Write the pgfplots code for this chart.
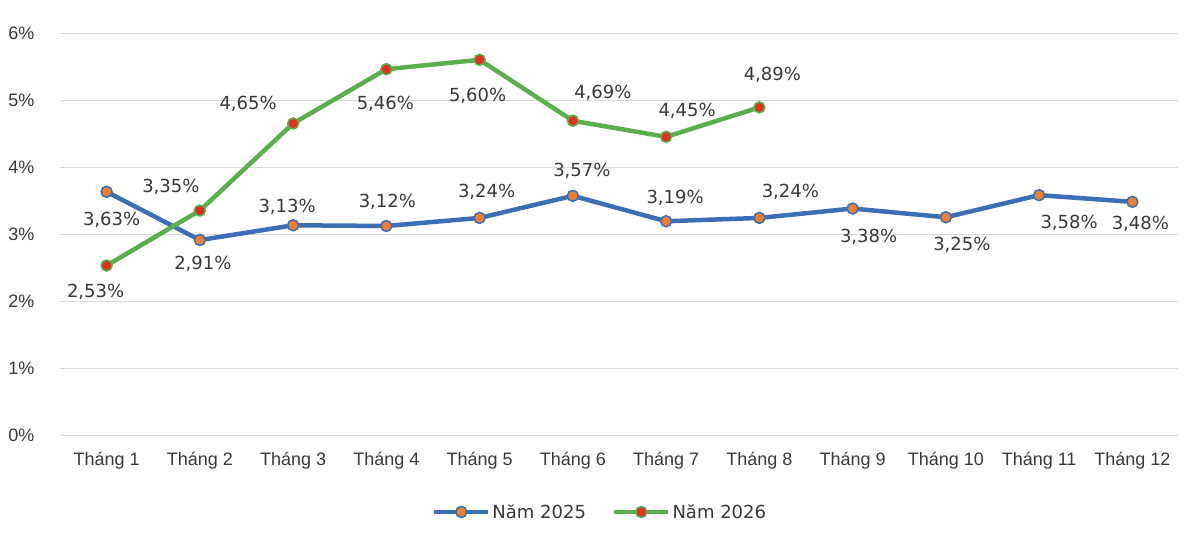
\documentclass[border=0pt]{standalone}
\usepackage{pgfplots}
\pgfplotsset{compat=1.18}
\usepackage{pgfplotstable}
\usepackage{fontspec}
\setmainfont{Liberation Sans}
\newfontfamily\lblfont{DejaVu Sans}

\definecolor{line25}{HTML}{3A6EB5}
\definecolor{mark25}{HTML}{ED7D31}
\definecolor{line26}{HTML}{5AAE4E}
\definecolor{mark26}{HTML}{E2301F}
\definecolor{txt}{HTML}{383838}
\definecolor{gridc}{HTML}{D9D9D9}

% x y dx dy  (dx, dy = label offset from the marker, in pt)
\pgfplotstableread{
x y dx dy
1 3.63 5 -28
2 2.91 3 -24
3 3.13 -6 18
4 3.12 1 24
5 3.24 7 26
6 3.57 9 25
7 3.19 9 23
8 3.24 31 26
9 3.38 16 -28
10 3.25 16 -28
11 3.58 30 -28
12 3.48 8 -22
}\yearA

\pgfplotstableread{
x y dx dy
1 2.53 -11 -26
2 3.35 -29 24
3 4.65 -45 20
4 5.46 -1 -35
5 5.60 -2 -36
6 4.69 30 28
7 4.45 21 26
8 4.89 13 33
}\yearB

\pgfplotsset{
  lbl/.style={
    visualization depends on={\thisrow{dx}\as\dx},
    visualization depends on={\thisrow{dy}\as\dy},
    point meta=y,
    nodes near coords={\pgfmathprintnumber[fixed,fixed zerofill,precision=2,use comma]{\pgfplotspointmeta}\%},
    every node near coord/.style={anchor=center, xshift=\dx, yshift=\dy,
      font=\lblfont\fontsize{18}{21}\selectfont, text=txt},
  },
}

\begin{document}
\begin{tikzpicture}
\useasboundingbox (-60pt,-107pt) rectangle (1129pt,435pt);
\begin{axis}[
  at={(0,0)}, anchor=south west,
  scale only axis,
  width=1119pt, height=402pt,
  xmin=0.5, xmax=12.5,
  ymin=0, ymax=6,
  xtick={1,...,12},
  xticklabels={Tháng 1,Tháng 2,Tháng 3,Tháng 4,Tháng 5,Tháng 6,Tháng 7,Tháng 8,Tháng 9,Tháng 10,Tháng 11,Tháng 12},
  ytick={0,1,...,6},
  yticklabel={\pgfmathprintnumber{\tick}\%},
  /pgf/number format/assume math mode=true,
  axis line style={draw=none},
  major tick length=0pt,
  ymajorgrids,
  grid style={gridc, line width=1pt},
  tick label style={font=\fontsize{18}{21}\selectfont, text=txt},
  xticklabel style={yshift=-14pt},
  yticklabel style={xshift=-22pt},
  clip=false,
  legend columns=2,
  legend style={at={(0.4826,-0.1915)}, anchor=center, draw=none,
    font=\lblfont\fontsize{18}{21}\selectfont, text=txt,
    /tikz/every even column/.append style={column sep=24pt}},
  legend image code/.code={\draw[mark repeat=2,mark phase=2] plot coordinates {(0pt,0pt)(27pt,0pt)(54pt,0pt)};},
]
\addplot[line25, line width=4.5pt, mark=*, mark size=5.5pt,
  mark options={fill=mark25, draw=line25, line width=1.5pt}, lbl]
  table[x=x, y=y] {\yearA};
\addlegendentry{Năm 2025}
\addplot[line26, line width=4.5pt, mark=*, mark size=5.5pt,
  mark options={fill=mark26, draw=line26, line width=1.5pt}, lbl]
  table[x=x, y=y] {\yearB};
\addlegendentry{Năm 2026}
\end{axis}
\end{tikzpicture}
\end{document}
